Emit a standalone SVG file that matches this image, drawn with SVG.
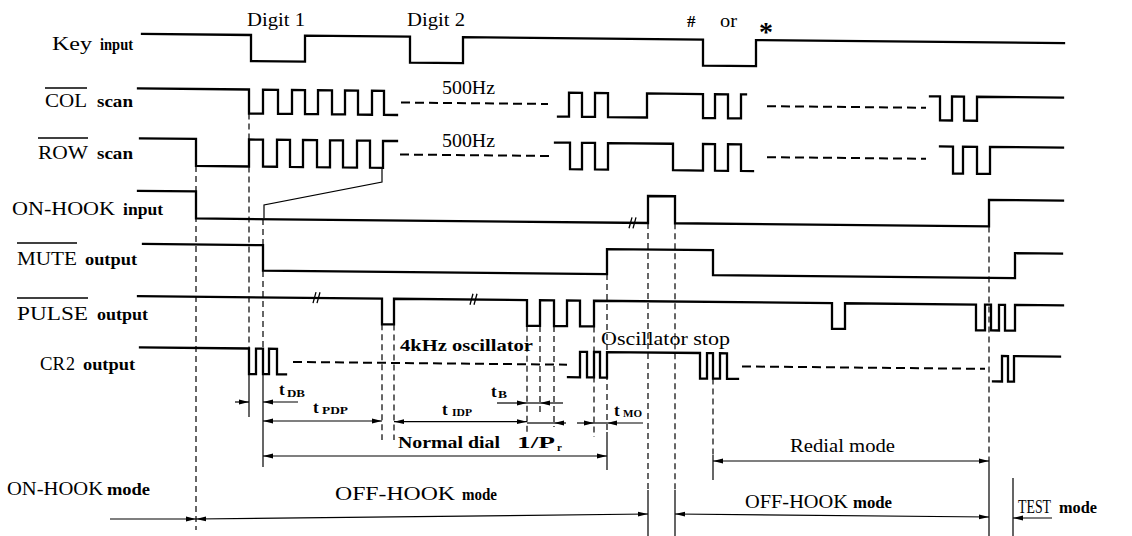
<svg xmlns="http://www.w3.org/2000/svg" width="1132" height="536" viewBox="0 0 1132 536">
<style>
.w{fill:none;stroke:#000;stroke-width:2.3;stroke-linejoin:miter;stroke-linecap:square}
.wd{fill:none;stroke:#000;stroke-width:2;stroke-dasharray:9 5}
.br{fill:none;stroke:#000;stroke-width:1.3}
.v{fill:none;stroke:#000;stroke-width:1.2;stroke-dasharray:6 4}
.s{fill:none;stroke:#000;stroke-width:1.2}
.a{fill:none;stroke:#000;stroke-width:1.2;marker-end:url(#ah)}
.a2{fill:none;stroke:#000;stroke-width:1.2;marker-start:url(#ah);marker-end:url(#ah)}
.ol{stroke:#000;stroke-width:1.4}
text{font-family:"Liberation Serif","Times New Roman",serif;fill:#000}
.c{font-size:18px}
.l{font-size:16px;font-weight:bold}
.sb{font-size:11px;font-weight:bold}
.tt{font-size:17px;font-weight:bold}
</style>
<defs>
<marker id="ah" viewBox="0 0 10 6" refX="10" refY="3" markerWidth="10" markerHeight="6" markerUnits="userSpaceOnUse" orient="auto-start-reverse"><path d="M0,0.6 L10,3 L0,5.4 z" fill="#000"/></marker>
</defs>
<rect width="1132" height="536" fill="#fff"/>

<g id="labels">
<text class="c" x="52" y="50" textLength="40" lengthAdjust="spacingAndGlyphs">Key</text>
<text class="l" x="100" y="50" textLength="33" lengthAdjust="spacingAndGlyphs">input</text>
<text class="c" x="45" y="107" textLength="42" lengthAdjust="spacingAndGlyphs">COL</text>
<line class="ol" x1="45" y1="88" x2="87" y2="88"/>
<text class="l" x="97" y="107" textLength="36" lengthAdjust="spacingAndGlyphs">scan</text>
<text class="c" x="38" y="159" textLength="50" lengthAdjust="spacingAndGlyphs">ROW</text>
<line class="ol" x1="38" y1="138" x2="88" y2="138"/>
<text class="l" x="97" y="159" textLength="36" lengthAdjust="spacingAndGlyphs">scan</text>
<text class="c" x="12" y="215" textLength="103" lengthAdjust="spacingAndGlyphs">ON-HOOK</text>
<text class="l" x="123" y="215" textLength="40" lengthAdjust="spacingAndGlyphs">input</text>
<text class="c" x="17" y="265" textLength="60" lengthAdjust="spacingAndGlyphs">MUTE</text>
<line class="ol" x1="17" y1="243" x2="77" y2="243"/>
<text class="l" x="85" y="265" textLength="52" lengthAdjust="spacingAndGlyphs">output</text>
<text class="c" x="17" y="320" textLength="71" lengthAdjust="spacingAndGlyphs">PULSE</text>
<line class="ol" x1="17" y1="298" x2="88" y2="298"/>
<text class="l" x="97" y="320" textLength="51" lengthAdjust="spacingAndGlyphs">output</text>
<text class="c" x="40" y="370" textLength="25" lengthAdjust="spacingAndGlyphs">CR</text>
<text class="c" x="66" y="370" font-size="12">2</text>
<text class="l" x="83" y="370" textLength="52" lengthAdjust="spacingAndGlyphs">output</text>
<text class="c" x="7" y="495" textLength="96" lengthAdjust="spacingAndGlyphs">ON-HOOK</text>
<text class="l" x="107" y="495" textLength="43" lengthAdjust="spacingAndGlyphs">mode</text>
<text class="c" x="335" y="500" textLength="120" lengthAdjust="spacingAndGlyphs">OFF-HOOK</text>
<text class="l" x="462" y="500" textLength="35" lengthAdjust="spacingAndGlyphs">mode</text>
<text class="c" x="745" y="508" textLength="103" lengthAdjust="spacingAndGlyphs">OFF-HOOK</text>
<text class="l" x="853" y="508" textLength="39" lengthAdjust="spacingAndGlyphs">mode</text>
<text class="c" x="1018" y="513" textLength="33" lengthAdjust="spacingAndGlyphs">TEST</text>
<text class="l" x="1059" y="513" textLength="38" lengthAdjust="spacingAndGlyphs">mode</text>
<text class="c" x="790" y="452" textLength="105" lengthAdjust="spacingAndGlyphs">Redial mode</text>
<text class="tt" x="398" y="448" font-size="18" textLength="102" lengthAdjust="spacingAndGlyphs">Normal dial</text>
<text class="tt" x="517" y="448" font-size="19" textLength="38" lengthAdjust="spacingAndGlyphs">1/P</text>
<text class="sb" x="557" y="451" font-size="9">r</text>
<text class="tt" x="400" y="351" textLength="133" lengthAdjust="spacingAndGlyphs">4kHz oscillator</text>
<text class="c" x="601" y="345" font-size="19" textLength="129" lengthAdjust="spacingAndGlyphs">Oscillator stop</text>
<text class="c" x="442" y="94" font-size="18" textLength="53" lengthAdjust="spacingAndGlyphs">500Hz</text>
<text class="c" x="442" y="147" font-size="18" textLength="53" lengthAdjust="spacingAndGlyphs">500Hz</text>
<text class="c" x="247" y="26" font-size="17" textLength="58" lengthAdjust="spacingAndGlyphs">Digit 1</text>
<text class="c" x="407" y="26" font-size="17" textLength="58" lengthAdjust="spacingAndGlyphs">Digit 2</text>
<text class="tt" x="687" y="27" font-size="18">#</text>
<text class="c" x="720" y="27" font-size="17" textLength="17" lengthAdjust="spacingAndGlyphs">or</text>
<text x="759" y="41" font-family="DejaVu Sans, sans-serif" font-weight="bold" font-size="28">*</text>
<text class="tt" x="279" y="395">t</text><text class="sb" x="287" y="397" textLength="18" lengthAdjust="spacingAndGlyphs">DB</text>
<text class="tt" x="313" y="413">t</text><text class="sb" x="322" y="414" textLength="26" lengthAdjust="spacingAndGlyphs">PDP</text>
<text class="tt" x="442" y="415">t</text><text class="sb" x="452" y="416" textLength="20" lengthAdjust="spacingAndGlyphs">IDP</text>
<text class="tt" x="491" y="397">t</text><text class="sb" x="498" y="398" textLength="9" lengthAdjust="spacingAndGlyphs">B</text>
<text class="tt" x="614" y="416">t</text><text class="sb" x="623" y="417" textLength="19" lengthAdjust="spacingAndGlyphs">MO</text>
</g>

<g id="waveforms" transform="matrix(1 0.01 0 1 0 0)">
<g id="key-input">
<path class="w" d="M142,32.5 H251 V58.5 H305 V32.5 H410 V58.5 H463 V32.5 H703 V58.5 H756 V32.5 H1064"/>
</g>
<g id="col-scan">
<path class="w" d="M138,87 H249 V111 H263 V87 H278 V111 H292 V87 H305 V111 H318 V87 H332 V111 H345 V87 H358 V111 H372 V87 H384 V111 H397"/>
<path class="wd" d="M401,98.5 H548"/>
<path class="w" d="M558,111 H569 V87 H582 V111 H595 V87 H608 V111 H647 V87 H703 V111 H715 V87 H728 V111 H741 V87 H746"/>
<path class="wd" d="M767,98.5 H926"/>
<path class="w" d="M930,87 H940 V111 H952 V87 H964 V111 H977 V87 H1063"/>
</g>
<g id="row-scan">
<path class="w" d="M140,137 H196 V164 H249 V137 H263 V164 H277 V137 H290 V164 H303 V137 H317 V164 H330 V137 H343 V164 H357 V137 H370 V164 H383 V137 H397"/>
<path class="wd" d="M400,150.5 H552"/>
<path class="w" d="M555,137 H570 V163.5 H582 V137 H595 V163.5 H608 V137 H673 V163.5 H703 V137 H715 V163.5 H728 V137 H741 V163.5 H753"/>
<path class="wd" d="M767,149.5 H926"/>
<path class="w" d="M940,137 H953 V164 H963 V137 H977 V164 H990 V137 H1063"/>
</g>
<g id="on-hook-input">
<path class="w" d="M138,189.5 H196 V216.5 H648 V189.5 H675 V216.5 H989 V190 H1063"/>
<path class="br" d="M629,222 L632,211 M633,222 L636,211"/>
</g>
<g id="mute-output">
<path class="w" d="M143,242.5 H263 V268 H607 V243 H713 V268 H1015 V243 H1062"/>
</g>
<g id="pulse-output">
<path class="w" d="M138,294.8 H382 V320.5 H394 V294.8 H527 V320.5 H540 V294.8 H554 V320.5 H567 V294.8 H580 V320.5 H594 V294.8 H832 V320.5 H845 V294.8 H976 V320.5 H985 V294.8 H991 V320.5 H999 V294.8 H1005 V320.5 H1015 V294.8 H1063"/>
<path class="br" d="M313,300 L316,289 M317,300 L320,289 M470,300 L473,289 M474,300 L477,289"/>
</g>
<g id="cr2-output">
<path class="w" d="M140,346 H249 V371.5 H256 V346 H263 V371.5 H269 V346 H277 V371.5 H286"/>
<path class="wd" d="M293,359 H567"/>
<path class="w" d="M568,371.5 H580 V346 H587 V371.5 H594 V346 H600 V371.5 H607 V346 H700 V371.5 H707 V346 H713 V371.5 H720 V346 H727 V371.5 H738"/>
<path class="wd" d="M742,359 H985"/>
<path class="w" d="M993,371.5 H1002 V346 H1008 V371.5 H1014 V346 H1060"/>
</g>
</g>

<g id="connectors">
<path class="s" d="M382,168 V182 L264,205 V218"/>
<path class="v" d="M196,166 V530"/>
<path class="v" d="M249,113.5 V139.5 M249,166.5 V348.5"/>
<path class="s" d="M249,374 V417"/>
<path class="v" d="M263,219 V245 M263,271 V348.6"/>
<path class="s" d="M263,374 V467"/>
<path class="v" d="M382,324.3 V440 M394,324.4 V440 M527,325.8 V433 M540,325.9 V412 M554,326 V427 M594,326.4 V437"/>
<path class="v" d="M607,274 V432"/>
<path class="s" d="M607,432 V470"/>
<path class="v" d="M648,223 V490 M675,223.3 V490"/>
<path class="s" d="M648,490 V536 M675,490 V536"/>
<path class="v" d="M713,378.6 V455"/>
<path class="s" d="M713,455 V480"/>
<path class="v" d="M989,226.4 V460"/>
<path class="s" d="M989,460 V536 M1013,478 V536"/>

<path class="a" d="M235,402 H249"/>
<path class="a" d="M298,402 H263"/>
<path class="a2" d="M263,421 H382"/>
<path class="a2" d="M394,421.7 H527"/>
<path class="s" d="M527,423 H554"/>
<path class="a" d="M566,423 H554"/>
<path class="a" d="M497,403 H527"/>
<path class="s" d="M527,403 H540"/>
<path class="a" d="M563,403 H540"/>
<path class="a" d="M577,423 H594"/>
<path class="s" d="M594,423 H607"/>
<path class="a" d="M643,423 H607"/>
<path class="a2" d="M263,456 H607"/>
<path class="a2" d="M713,461 H989"/>
<path class="a" d="M110,519 H196"/>
<path class="a2" d="M196,519 L648,514"/>
<path class="a2" d="M675,514 L989,517"/>
<path class="a" d="M1052,518 H1013"/>
</g>
</svg>
